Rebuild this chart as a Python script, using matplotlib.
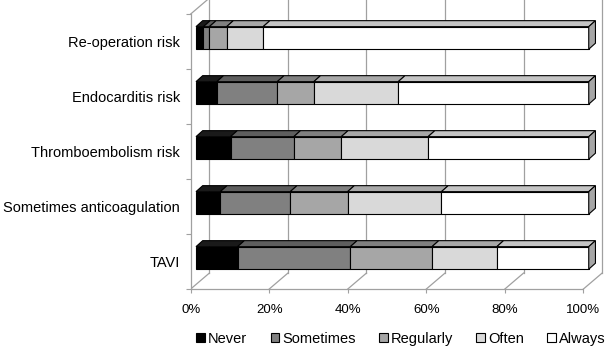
import matplotlib
matplotlib.use("Agg")
import matplotlib.pyplot as plt
from matplotlib.patches import Polygon, Patch

plt.rcParams['font.family'] = ['Liberation Sans', 'DejaVu Sans']

# data (percent of respondents), bottom to top
categories = ['TAVI', 'Sometimes anticoagulation', 'Thromboembolism risk',
              'Endocarditis risk', 'Re-operation risk']
never = [10.6, 6.2, 8.8, 5.3, 1.9]
sometimes = [28.7, 17.8, 16.1, 15.4, 1.5]
regularly = [20.8, 14.6, 12.1, 9.3, 4.4]
often = [16.5, 23.9, 22.1, 21.5, 9.3]
always = [23.4, 37.5, 40.9, 48.5, 82.9]
series_names = ['Never', 'Sometimes', 'Regularly', 'Often', 'Always']
xticks = [0, 20, 40, 60, 80, 100]

front_col = ['#000000', '#808080', '#a6a6a6', '#d9d9d9', '#ffffff']
top_col = ['#1a1a1a', '#5e5e5e', '#808080', '#a8a8a8', '#c4c4c4']
side_col = '#a6a6a6'
grid_col = '#a0a0a0'

# 3d look (in data units)
box_dx, box_dy = 4.76, 0.29      # depth of the whole box
bar_ox, bar_oy = 1.35, 0.065     # bar front face offset from the front plane
bar_dx, bar_dy = 1.71, 0.109     # bar depth
bar_h = 0.41

fig = plt.figure(figsize=(6.09, 3.47), dpi=100)
ax = fig.add_axes([190.7 / 609, 58 / 347, 416.3 / 609, 289 / 347])
ax.set_xlim(0, 106)
ax.set_ylim(-0.5, -0.5 + 289 / 55)

n = len(categories)
y_lo, y_hi = -0.5, n - 0.5

# back wall gridlines + floor diagonals
for t in xticks:
    ax.plot([t + box_dx, t + box_dx], [y_lo + box_dy, y_hi + box_dy],
            color=grid_col, lw=0.9, zorder=1, clip_on=False)
    ax.plot([t, t + box_dx], [y_lo, y_lo + box_dy], color=grid_col, lw=0.9, zorder=1)
# left wall top edge
ax.plot([0, box_dx], [y_hi, y_hi + box_dy], color=grid_col, lw=0.9, zorder=1, clip_on=False)

# bars
series = [never, sometimes, regularly, often, always]
for i in range(n):
    yb = i - bar_h / 2 + bar_oy
    yt = yb + bar_h
    left = bar_ox
    for k, vals in enumerate(series):
        x0 = left
        x1 = left + vals[i]
        ax.add_patch(Polygon([(x0, yb), (x1, yb), (x1, yt), (x0, yt)], closed=True,
                             facecolor=front_col[k], edgecolor='black', lw=0.8, zorder=3))
        ax.add_patch(Polygon([(x0, yt), (x1, yt), (x1 + bar_dx, yt + bar_dy),
                              (x0 + bar_dx, yt + bar_dy)], closed=True,
                             facecolor=top_col[k], edgecolor='black', lw=0.8, zorder=3))
        left = x1
    ax.add_patch(Polygon([(left, yb), (left + bar_dx, yb + bar_dy),
                          (left + bar_dx, yt + bar_dy), (left, yt)], closed=True,
                         facecolor=side_col, edgecolor='black', lw=0.8, zorder=3))

# axes: front left line and floor front line
for s in ['top', 'right']:
    ax.spines[s].set_visible(False)
ax.spines['left'].set_bounds(y_lo, y_hi)
ax.spines['bottom'].set_bounds(0, 100)
for s in ['left', 'bottom']:
    ax.spines[s].set_color(grid_col)
    ax.spines[s].set_linewidth(0.9)

ax.set_xticks(xticks)
ax.set_xticklabels([f'{t}%' for t in xticks], fontsize=9.5)
ax.tick_params(axis='x', length=3, color=grid_col, pad=7.5)
ax.set_yticks([i - 0.5 for i in range(n + 1)])
ax.set_yticklabels([])
ax.tick_params(axis='y', which='major', length=3.4, color=grid_col)
ax.set_yticks(range(n), minor=True)
ax.set_yticklabels(categories, minor=True, fontsize=10.5)
ax.tick_params(axis='y', which='minor', length=0, pad=7.7)
ax.patch.set_visible(False)

handles = [Patch(facecolor=c, edgecolor='black', lw=0.8) for c in front_col]
fig.legend(handles, series_names, loc='center', bbox_to_anchor=(401 / 609, 1 - 339 / 347),
           ncol=5, frameon=False, fontsize=10.5, handlelength=0.6, handleheight=0.6,
           handletextpad=0.2, columnspacing=1.6, borderaxespad=0)

fig.savefig('out.png', dpi=100)
